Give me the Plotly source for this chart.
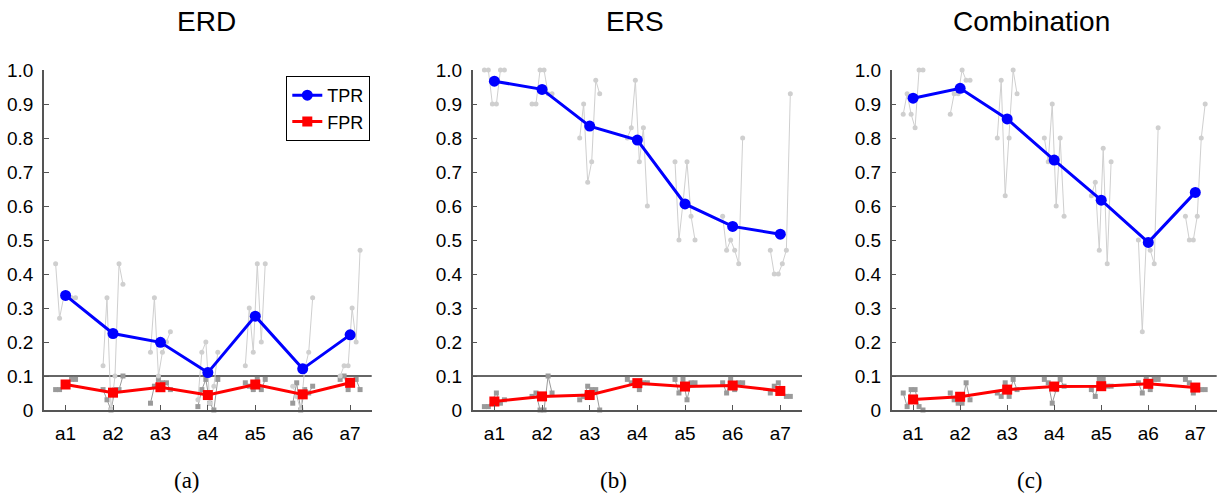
import plotly.graph_objects as go

# ---------------------------------------------------------------- data
actions = ["a1", "a2", "a3", "a4", "a5", "a6", "a7"]
panel_titles = ["ERD", "ERS", "Combination"]
panel_captions = ["(a)", "(b)", "(c)"]
y_tick_vals = [0, 0.1, 0.2, 0.3, 0.4, 0.5, 0.6, 0.7, 0.8, 0.9, 1.0]
y_tick_text = ["0", "0.1", "0.2", "0.3", "0.4", "0.5", "0.6", "0.7", "0.8", "0.9", "1.0"]
threshold = 0.1

# average rates over subjects
erd_tpr = [0.337, 0.225, 0.199, 0.110, 0.276, 0.121, 0.221]
erd_fpr = [0.075, 0.051, 0.067, 0.044, 0.075, 0.046, 0.080]
ers_tpr = [0.967, 0.943, 0.835, 0.794, 0.606, 0.540, 0.517]
ers_fpr = [0.025, 0.040, 0.044, 0.079, 0.069, 0.072, 0.056]
comb_tpr = [0.917, 0.946, 0.856, 0.735, 0.617, 0.493, 0.640]
comb_fpr = [0.031, 0.039, 0.060, 0.069, 0.070, 0.077, 0.066]

# per-subject rates (6 subjects per action)
erd_tpr_subj = [
    [0.43, 0.27, 0.33, 0.33, 0.33, 0.33],
    [0.13, 0.33, 0.00, 0.10, 0.43, 0.37],
    [0.17, 0.33, 0.10, 0.17, 0.20, 0.23],
    [0.03, 0.17, 0.20, 0.02, 0.07, 0.17],
    [0.13, 0.30, 0.17, 0.43, 0.20, 0.43],
    [0.07, 0.04, 0.00, 0.12, 0.17, 0.33],
    [0.10, 0.13, 0.13, 0.30, 0.20, 0.47],
]
erd_fpr_subj = [
    [0.06, 0.06, 0.07, 0.08, 0.09, 0.09],
    [0.06, 0.03, 0.00, 0.06, 0.06, 0.10],
    [0.02, 0.07, 0.09, 0.08, 0.08, 0.06],
    [0.01, 0.06, 0.09, 0.02, 0.00, 0.09],
    [0.08, 0.07, 0.06, 0.09, 0.06, 0.09],
    [0.02, 0.08, 0.00, 0.06, 0.05, 0.07],
    [0.09, 0.10, 0.06, 0.08, 0.09, 0.06],
]
ers_tpr_subj = [
    [1.00, 1.00, 0.90, 0.90, 1.00, 1.00],
    [0.90, 0.90, 1.00, 1.00, 0.93, 0.93],
    [0.80, 0.90, 0.67, 0.73, 0.97, 0.93],
    [0.80, 0.83, 0.97, 0.73, 0.83, 0.60],
    [0.73, 0.50, 0.61, 0.73, 0.57, 0.50],
    [0.57, 0.47, 0.50, 0.47, 0.43, 0.80],
    [0.47, 0.40, 0.40, 0.43, 0.47, 0.93],
]
ers_fpr_subj = [
    [0.01, 0.01, 0.03, 0.05, 0.02, 0.03],
    [0.04, 0.05, 0.00, 0.00, 0.10, 0.05],
    [0.03, 0.04, 0.07, 0.06, 0.06, 0.00],
    [0.09, 0.08, 0.08, 0.06, 0.08, 0.08],
    [0.09, 0.05, 0.09, 0.03, 0.08, 0.08],
    [0.08, 0.05, 0.09, 0.06, 0.08, 0.08],
    [0.05, 0.07, 0.08, 0.06, 0.04, 0.04],
]
comb_tpr_subj = [
    [0.87, 0.93, 0.87, 0.83, 1.00, 1.00],
    [0.87, 0.93, 0.93, 1.00, 0.97, 0.97],
    [0.80, 0.97, 0.63, 0.80, 1.00, 0.93],
    [0.80, 0.73, 0.90, 0.60, 0.80, 0.57],
    [0.63, 0.67, 0.47, 0.77, 0.43, 0.73],
    [0.50, 0.23, 0.50, 0.47, 0.43, 0.83],
    [0.57, 0.50, 0.50, 0.57, 0.80, 0.90],
]
comb_fpr_subj = [
    [0.05, 0.01, 0.06, 0.06, 0.01, 0.00],
    [0.05, 0.03, 0.02, 0.02, 0.08, 0.03],
    [0.05, 0.04, 0.08, 0.04, 0.09, 0.06],
    [0.09, 0.08, 0.02, 0.06, 0.09, 0.07],
    [0.06, 0.04, 0.09, 0.09, 0.07, 0.07],
    [0.08, 0.05, 0.09, 0.06, 0.09, 0.09],
    [0.09, 0.08, 0.05, 0.06, 0.06, 0.06],
]

# ---------------------------------------------------------------- styling
W, H = 1219, 500
MT, MB = 70, 90
SANS = "Liberation Sans, Arial, Helvetica, sans-serif"
SERIF = "Liberation Serif, Times New Roman, serif"
AXIS_COL = "#555555"
BLUE = "rgb(0,0,255)"
RED = "rgb(255,0,0)"
GRAY_T = "#cfcfcf"
GRAY_F = "#9a9a9a"

# horizontal domains of the three panels (pixel edges / width)
domains = [(44 / W, 371.7 / W), (472.7 / W, 802 / W), (891.7 / W, 1216.7 / W)]
title_px = [206, 635, 1031]
caption_px = [187, 613, 1030]
x_pos = list(range(1, len(actions) + 1))
# horizontal spread of the subject markers around each action
subj_offsets = [-0.21, -0.127, -0.042, 0.042, 0.127, 0.21]

panels = [
    (erd_tpr, erd_fpr, erd_tpr_subj, erd_fpr_subj),
    (ers_tpr, ers_fpr, ers_tpr_subj, ers_fpr_subj),
    (comb_tpr, comb_fpr, comb_tpr_subj, comb_fpr_subj),
]


def spread(subj):
    xs, ys = [], []
    for i, vals in enumerate(subj):
        for off, v in zip(subj_offsets, vals):
            xs.append(x_pos[i] + off)
            ys.append(v)
        xs.append(None)
        ys.append(None)
    return xs, ys


fig = go.Figure()
for k, (tpr, fpr, tpr_s, fpr_s) in enumerate(panels):
    xa = "x" if k == 0 else f"x{k + 1}"
    ya = "y" if k == 0 else f"y{k + 1}"
    xs, ys = spread(fpr_s)
    fig.add_trace(go.Scatter(
        x=xs, y=ys, xaxis=xa, yaxis=ya, mode="lines+markers",
        line=dict(color=GRAY_F, width=1),
        marker=dict(symbol="square", size=5, color=GRAY_F),
        showlegend=False, cliponaxis=False, hoverinfo="skip"))
    xs, ys = spread(tpr_s)
    fig.add_trace(go.Scatter(
        x=xs, y=ys, xaxis=xa, yaxis=ya, mode="lines+markers",
        line=dict(color=GRAY_T, width=1),
        marker=dict(symbol="circle", size=5, color=GRAY_T),
        showlegend=False, cliponaxis=False, hoverinfo="skip"))
    fig.add_trace(go.Scatter(
        x=x_pos, y=tpr, xaxis=xa, yaxis=ya, mode="lines+markers", name="TPR",
        line=dict(color=BLUE, width=3),
        marker=dict(symbol="circle", size=11, color=BLUE),
        showlegend=(k == 0), cliponaxis=False))
    fig.add_trace(go.Scatter(
        x=x_pos, y=fpr, xaxis=xa, yaxis=ya, mode="lines+markers", name="FPR",
        line=dict(color=RED, width=3),
        marker=dict(symbol="square", size=10, color=RED),
        showlegend=(k == 0), cliponaxis=False))

    fig.add_shape(type="line", xref=f"{xa} domain", yref=ya,
                  x0=0, x1=1, y0=threshold, y1=threshold,
                  line=dict(color="#333333", width=1.3), layer="below")

    axis_common = dict(showline=True, linecolor=AXIS_COL, linewidth=1.5,
                       ticks="inside", tickcolor=AXIS_COL, ticklen=5,
                       showgrid=False, zeroline=False,
                       tickfont=dict(family=SANS, size=19, color="black"))
    fig.update_layout({
        ("xaxis" if k == 0 else f"xaxis{k + 1}"): dict(
            domain=list(domains[k]), anchor=ya, range=[0.545, 7.455],
            tickvals=x_pos, ticktext=actions, ticklabelstandoff=5,
            **axis_common),
        ("yaxis" if k == 0 else f"yaxis{k + 1}"): dict(
            domain=[0, 1], anchor=xa, range=[0, 1],
            tickvals=y_tick_vals, ticktext=y_tick_text, ticklabelstandoff=5,
            **axis_common),
    })

    plot_h = H - MT - MB
    fig.add_annotation(text=panel_titles[k], xref="paper", yref="paper",
                       x=title_px[k] / W, y=(H - MB - 21) / plot_h,
                       xanchor="center", yanchor="middle", showarrow=False,
                       font=dict(family=SANS, size=28, color="black"))
    fig.add_annotation(text=panel_captions[k], xref="paper", yref="paper",
                       x=caption_px[k] / W, y=(H - MB - 480) / plot_h,
                       xanchor="center", yanchor="middle", showarrow=False,
                       font=dict(family=SERIF, size=23, color="black"))

fig.update_layout(
    width=W, height=H,
    margin=dict(l=0, r=0, t=MT, b=MB),
    paper_bgcolor="white", plot_bgcolor="white",
    showlegend=True,
    legend=dict(x=370.3 / W, y=(H - MB - 76) / (H - MT - MB),
                xanchor="right", yanchor="top",
                bgcolor="white", bordercolor="black", borderwidth=1,
                font=dict(family=SANS, size=18, color="black"),
                tracegroupgap=0, itemwidth=30),
)

fig.write_html("out.html")
